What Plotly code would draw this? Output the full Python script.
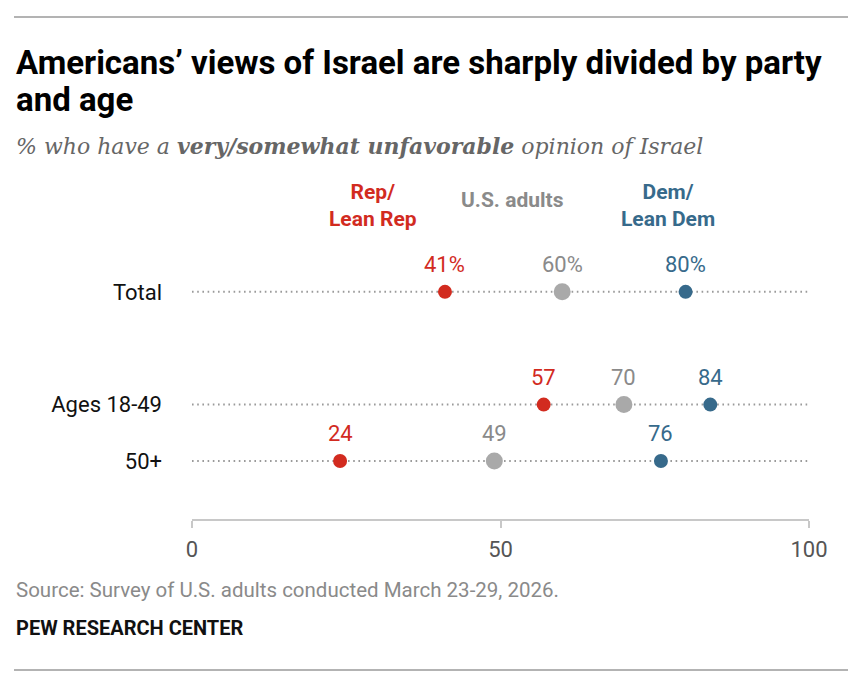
import plotly.graph_objects as go

# data
groups = ["Total", "Ages 18-49", "50+"]
rep = [41, 57, 24]
adults = [60, 70, 49]
dem = [80, 84, 76]
rep_labels = ["41%", "57", "24"]
adults_labels = ["60%", "70", "49"]
dem_labels = ["80%", "84", "76"]
x_ticks = [0, 50, 100]

RED = "#d22b1f"
GREY_DOT = "#a9a9a9"
GREY_TXT = "#8a8a8a"
BLUE = "#376a8b"

OFF = 8  # page body margin
W, H = 862 - OFF, 693 - OFF
# plot area in page pixels
L, R, T, B = 192, 809, 240, 519

# vertical slot of each row (extra gap after Total)
row_slot = {"Total": 0, "Ages 18-49": 2, "50+": 3}
y_vals = [row_slot[g] for g in groups]


def px(x):
    return (x - L) / (R - L)


def py(y):
    return (B - y) / (B - T)


fig = go.Figure()

# dotted row guides
for y in y_vals:
    fig.add_trace(go.Scatter(
        x=[0, 100], y=[y, y], mode="lines",
        line=dict(color="#9a9a9a", width=2, dash="1.6px,3.6px"),
        hoverinfo="skip", showlegend=False,
    ))

series = [
    (rep, rep_labels, RED, RED, 14),
    (adults, adults_labels, GREY_DOT, GREY_TXT, 17),
    (dem, dem_labels, BLUE, BLUE, 14),
]
for vals, labels, dot_col, txt_col, size in series:
    fig.add_trace(go.Scatter(
        x=vals, y=y_vals, mode="markers",
        marker=dict(color=dot_col, size=size),
        cliponaxis=False, showlegend=False,
    ))
    # value labels sit above each dot
    for v, y, lab in zip(vals, y_vals, labels):
        fig.add_annotation(
            x=v, y=y, text=lab, showarrow=False, yshift=27,
            xanchor="center", yanchor="middle",
            font=dict(family="Roboto", size=22, color=txt_col),
        )

fig.update_layout(
    width=W, height=H,
    margin=dict(l=L - OFF, r=W - (R - OFF), t=T - OFF, b=H - (B - OFF)),
    paper_bgcolor="white", plot_bgcolor="white",
    font=dict(family="Roboto", color="#222"),
    xaxis=dict(
        range=[0, 100], tickvals=x_ticks, showgrid=False, zeroline=False,
        showline=True, linecolor="#c8c8c8", linewidth=2,
        ticks="outside", ticklen=7, tickcolor="#c8c8c8", tickwidth=2,
        tickfont=dict(family="Roboto", size=22, color="#555"),
        ticklabelstandoff=3,
    ),
    yaxis=dict(
        range=[4.03, -0.92], tickvals=y_vals, ticktext=groups,
        showgrid=False, zeroline=False, showline=False,
        tickfont=dict(family="Roboto", size=22, color="#111"),
        ticklabelstandoff=29,
    ),
)

title_font = dict(family="Roboto", size=33, color="#000", weight="bold")
annos = [
    dict(text="Americans’ views of Israel are sharply divided by party",
         x=px(14), y=py(62), xanchor="left", yanchor="middle",
         font=title_font),
    dict(text="and age",
         x=px(14), y=py(100), xanchor="left", yanchor="middle",
         font=title_font),
    dict(text="% who have a <b>very/somewhat unfavorable</b> opinion of Israel",
         x=px(14), y=py(146), xanchor="left", yanchor="middle",
         font=dict(family="DejaVu Serif", size=22, color="#666", style="italic")),
    dict(text="<b>Rep/<br>Lean Rep</b>", x=px(373), y=py(205),
         xanchor="center", yanchor="middle",
         font=dict(family="Roboto", size=21, color=RED)),
    dict(text="<b>U.S. adults</b>", x=px(512), y=py(200),
         xanchor="center", yanchor="middle",
         font=dict(family="Roboto", size=21, color=GREY_TXT)),
    dict(text="<b>Dem/<br>Lean Dem</b>", x=px(668), y=py(205),
         xanchor="center", yanchor="middle",
         font=dict(family="Roboto", size=21, color=BLUE)),
    dict(text="Source: Survey of U.S. adults conducted March 23-29, 2026.",
         x=px(14), y=py(590), xanchor="left", yanchor="middle",
         font=dict(family="Roboto", size=20.5, color="#8a8a8a")),
    dict(text="<b>PEW RESEARCH CENTER</b>",
         x=px(14), y=py(628), xanchor="left", yanchor="middle",
         font=dict(family="Roboto", size=20, color="#111")),
]
for a in annos:
    fig.add_annotation(xref="paper", yref="paper", showarrow=False, **a)

for y in (17, 670):
    fig.add_shape(type="line", xref="paper", yref="paper",
                  x0=px(14), x1=px(848), y0=py(y), y1=py(y),
                  line=dict(color="#9a9a9a", width=1.5))

fig.write_html("out.html")
